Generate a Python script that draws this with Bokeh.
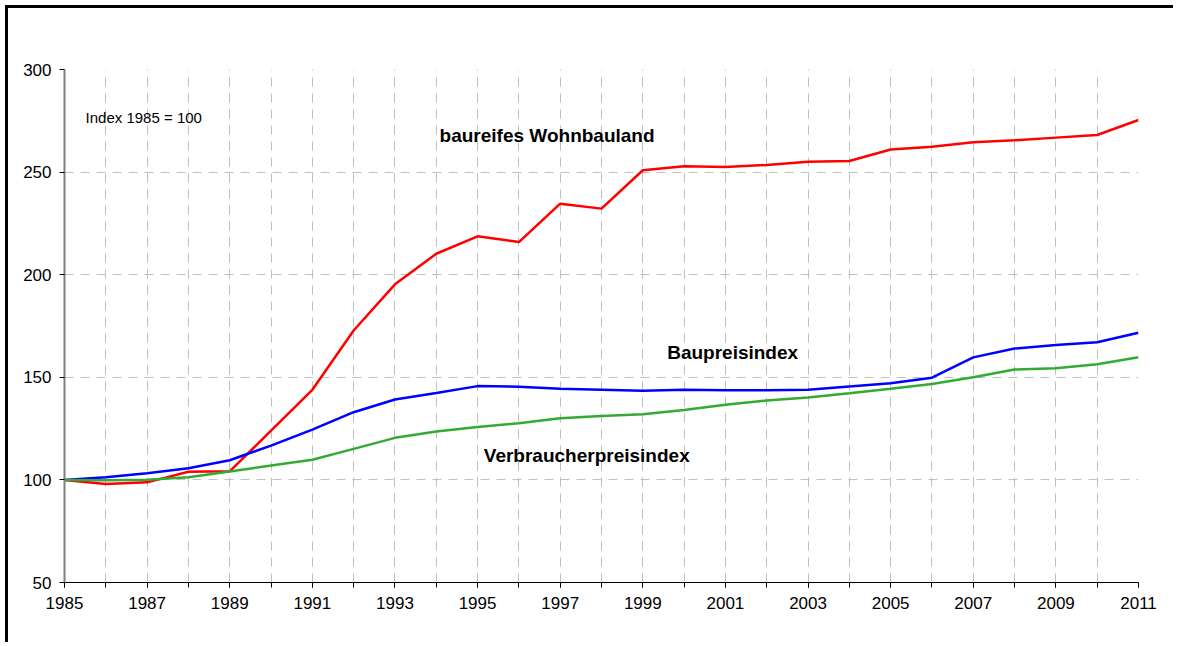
from bokeh.plotting import figure
from bokeh.models import FixedTicker, Label
from bokeh.embed import file_html
from bokeh.resources import INLINE

years = [1985, 1986, 1987, 1988, 1989, 1990, 1991, 1992, 1993, 1994,
         1995, 1996, 1997, 1998, 1999, 2000, 2001, 2002, 2003, 2004,
         2005, 2006, 2007, 2008, 2009, 2010, 2011]

labelled_years = [1985, 1987, 1989, 1991, 1993, 1995, 1997, 1999, 2001, 2003,
                  2005, 2007, 2009, 2011]

wohnbauland = [100.0, 98.0, 98.8, 104.0, 104.2, 124.0, 143.9, 172.8, 195.3, 210.2,
               218.7, 215.9, 234.6, 232.2, 250.9, 252.8, 252.5, 253.5, 255.1, 255.4,
               261.0, 262.3, 264.5, 265.5, 266.8, 268.1, 275.4]

baupreisindex = [100.0, 101.3, 103.2, 105.7, 109.6, 116.7, 124.5, 133.0, 139.2, 142.4,
                 145.7, 145.4, 144.4, 143.9, 143.4, 143.9, 143.7, 143.7, 143.9, 145.5,
                 147.1, 149.8, 159.7, 164.0, 165.7, 167.1, 171.7]

verbraucherpreisindex = [100.0, 99.8, 100.1, 101.3, 104.1, 107.0, 109.8, 115.1, 120.5, 123.6,
                         125.8, 127.6, 130.0, 131.2, 132.0, 134.1, 136.6, 138.7, 140.2, 142.2,
                         144.4, 146.7, 150.0, 153.8, 154.4, 156.4, 159.8]

y_ticks = [50, 100, 150, 200, 250, 300]

series_labels = ["baureifes Wohnbauland", "Baupreisindex", "Verbraucherpreisindex"]
note_text = "Index 1985 = 100"

FONT = "Liberation Sans"

p = figure(width=1168, height=637, output_backend="svg", toolbar_location=None,
           x_range=(1985, 2011), y_range=(50, 300),
           min_border_left=56, min_border_right=38, min_border_top=61, min_border_bottom=63,
           styles={"border-left": "3px solid black", "border-top": "3px solid black",
                   "margin-left": "5px", "margin-top": "5px"})
p.outline_line_color = None
p.background_fill_color = "white"
p.border_fill_color = "white"

x_ticker = FixedTicker(ticks=labelled_years, minor_ticks=years)

# x axis
p.xaxis.ticker = x_ticker
p.xaxis.axis_line_color = "black"
p.xaxis.axis_line_width = 1
p.xaxis.major_tick_line_color = "black"
p.xaxis.minor_tick_line_color = "black"
p.xaxis.major_tick_in = 0
p.xaxis.major_tick_out = 5
p.xaxis.minor_tick_in = 0
p.xaxis.minor_tick_out = 5
p.xaxis.major_label_standoff = 9
p.xaxis.major_label_text_font = FONT
p.xaxis.major_label_text_font_size = "17px"
p.xaxis.major_label_text_color = "black"

# y axis
p.yaxis.ticker = FixedTicker(ticks=y_ticks)
p.yaxis.axis_line_color = "#808080"
p.yaxis.axis_line_width = 2
p.yaxis.major_tick_line_color = "black"
p.yaxis.major_tick_in = 0
p.yaxis.major_tick_out = 5
p.yaxis.minor_tick_line_color = None
p.yaxis.major_label_standoff = 8
p.yaxis.major_label_text_font = FONT
p.yaxis.major_label_text_font_size = "17px"
p.yaxis.major_label_text_color = "black"

# grids
p.xgrid.ticker = x_ticker
p.xgrid.grid_line_color = "#c0c0c0"
p.xgrid.grid_line_dash = "9 7"
p.xgrid.minor_grid_line_color = "#c0c0c0"
p.xgrid.minor_grid_line_dash = "9 7"
p.ygrid.ticker = FixedTicker(ticks=y_ticks)
p.ygrid.grid_line_color = "#c0c0c0"
p.ygrid.grid_line_dash = "9 7"

p.line(years, wohnbauland, line_color="#FF0000", line_width=2.5)
p.line(years, baupreisindex, line_color="#0000FF", line_width=2.5)
p.line(years, verbraucherpreisindex, line_color="#33AA33", line_width=2.5)

p.add_layout(Label(x=1985.51, y=276.7, text=note_text, text_font=FONT,
                   text_font_size="15px", text_color="black", text_baseline="alphabetic"))
p.add_layout(Label(x=1994.08, y=267.6, text=series_labels[0], text_font=FONT,
                   text_font_size="19px", text_font_style="bold", text_color="black",
                   text_baseline="alphabetic"))
p.add_layout(Label(x=1999.59, y=162.1, text=series_labels[1], text_font=FONT,
                   text_font_size="19px", text_font_style="bold", text_color="black",
                   text_baseline="alphabetic"))
p.add_layout(Label(x=1995.15, y=111.7, text=series_labels[2], text_font=FONT,
                   text_font_size="19px", text_font_style="bold", text_color="black",
                   text_baseline="alphabetic"))

open("out.html", "w").write(file_html(p, INLINE))
